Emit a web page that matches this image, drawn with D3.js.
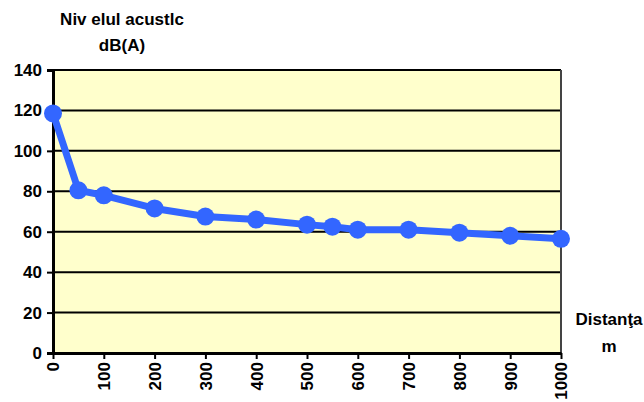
<!DOCTYPE html>
<html><head><meta charset="utf-8">
<script src="https://cdn.jsdelivr.net/npm/d3@7"></script>
<style>body{margin:0;background:#fff}svg text{font-family:"Liberation Sans",Arial,sans-serif;font-weight:bold;fill:#000}</style>
</head><body><svg id="c" width="644" height="402"></svg>
<script>
const distances = [0, 50, 100, 200, 300, 400, 500, 550, 600, 700, 800, 900, 1000];
const levels = [118.5, 80.5, 78, 71.5, 67.5, 66, 63.5, 62.5, 61, 61, 59.5, 58, 56.5];
const xTicks = [0,100,200,300,400,500,600,700,800,900,1000];
const yTicks = [0,20,40,60,80,100,120,140];
const titleLines = ["Niv elul acustlc", "dB(A)"];
const xTitleLines = ["Distanţa", "m"];

const svg = d3.select("#c");
const L=53, R=561, T=70, B=353;
const x = d3.scaleLinear().domain([0,1000]).range([L,R]);
const y = d3.scaleLinear().domain([0,140]).range([B,T]);

svg.append("rect").attr("x",L).attr("y",T).attr("width",R-L).attr("height",B-T).attr("fill","#FFFFCC");
svg.append("g").selectAll("line").data(yTicks.filter(d=>d>0)).join("line")
  .attr("x1",L).attr("x2",R).attr("y1",d=>y(d)).attr("y2",d=>y(d))
  .attr("stroke","#000").attr("stroke-width",2);
svg.append("line").attr("x1",R).attr("x2",R).attr("y1",T).attr("y2",B).attr("stroke","#444").attr("stroke-width",2);

const ya = svg.append("g").attr("transform",`translate(${L},0)`)
  .call(d3.axisLeft(y).tickValues(yTicks).tickSize(6).tickPadding(5));
ya.select(".domain").attr("stroke","#000").attr("stroke-width",3);
ya.selectAll(".tick line").attr("stroke","#000").attr("stroke-width",2);
ya.selectAll(".tick text").style("font-size","17px");

const xa = svg.append("g").attr("transform",`translate(0,${B})`)
  .call(d3.axisBottom(x).tickValues(xTicks).tickFormat(d3.format("d")).tickSize(6).tickSizeOuter(0));
xa.select(".domain").attr("stroke","#000").attr("stroke-width",3);
xa.selectAll(".tick line").attr("stroke","#000").attr("stroke-width",2);
xa.selectAll(".tick text").style("font-size","17px")
  .attr("transform","rotate(-90)").attr("text-anchor","end")
  .attr("x",-9).attr("y",0).attr("dy","0.35em");

svg.append("path").datum(distances.map((d,i)=>[d,levels[i]]))
  .attr("d",d3.line().x(d=>x(d[0])).y(d=>y(d[1])))
  .attr("fill","none").attr("stroke","#3366FF").attr("stroke-width",7).attr("stroke-linejoin","round");
svg.append("g").selectAll("circle").data(distances).join("circle")
  .attr("cx",d=>x(d)).attr("cy",(d,i)=>y(levels[i])).attr("r",9).attr("fill","#3366FF");

svg.append("g").selectAll("text").data(titleLines).join("text")
  .attr("x",122).attr("y",(d,i)=>25+i*26).attr("text-anchor","middle").style("font-size","17px").text(d=>d);
svg.append("g").selectAll("text").data(xTitleLines).join("text")
  .attr("x",609).attr("y",(d,i)=>325+i*27).attr("text-anchor","middle").style("font-size","17px").text(d=>d);
</script></body></html>
